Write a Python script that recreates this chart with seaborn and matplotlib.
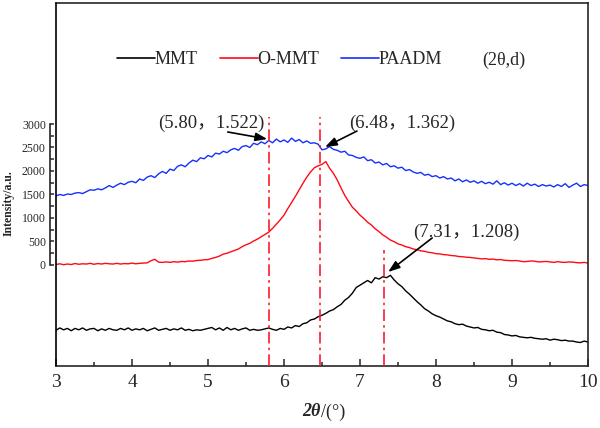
import numpy as np
import pandas as pd
import matplotlib
matplotlib.use("Agg")
import matplotlib.pyplot as plt
from matplotlib.lines import Line2D
from matplotlib.ticker import MultipleLocator
from matplotlib.transforms import blended_transform_factory
import seaborn as sns

# ------------------------
# Data (curves are stacked/offset as drawn)
# ------------------------
two_theta = np.round(np.arange(3.0, 10.025, 0.05), 2)

mmt = [-1390, -1340, -1380, -1350, -1400, -1350, -1380, -1340, -1390, -1360,
       -1350, -1400, -1360, -1390, -1350, -1380, -1390, -1350, -1380, -1340,
       -1390, -1360, -1380, -1350, -1400, -1370, -1340, -1390, -1370, -1350,
       -1390, -1360, -1380, -1340, -1390, -1370, -1400, -1380, -1390, -1370,
       -1350, -1330, -1380, -1340, -1390, -1330, -1380, -1350, -1390, -1360,
       -1340, -1390, -1370, -1390, -1380, -1360, -1340, -1370, -1390, -1350,
       -1370, -1320, -1340, -1290, -1310, -1250, -1230, -1170, -1150, -1100,
       -1070, -1030, -980, -950, -890, -840, -750, -690, -600, -480,
       -430, -380, -330, -380, -270, -300, -250, -270, -220, -320,
       -400, -460, -550, -620, -700, -780, -850, -930, -980, -1040,
       -1080, -1110, -1150, -1190, -1210, -1250, -1270, -1260, -1300, -1320,
       -1340, -1330, -1370, -1380, -1400, -1390, -1430, -1440, -1480, -1490,
       -1510, -1500, -1530, -1540, -1550, -1540, -1560, -1570, -1580, -1570,
       -1600, -1580, -1590, -1610, -1600, -1620, -1620, -1640, -1650, -1620,
       -1640]

ommt = [10, 25, 5, 20, 10, 30, 15, 25, 20, 35,
        15, 30, 20, 35, 25, 20, 35, 20, 30, 25,
        40, 25, 35, 40, 45, 90, 120, 60, 55, 65,
        55, 70, 60, 75, 70, 85, 80, 95, 100, 110,
        115, 140, 160, 190, 230, 250, 280, 310, 340, 390,
        430, 460, 510, 550, 600, 650, 700, 780, 870, 960,
        1060, 1200, 1330, 1460, 1600, 1740, 1870, 1980, 2070, 2110,
        2140, 2200, 2060, 1950, 1810, 1640, 1480, 1350, 1230, 1150,
        1060, 990, 910, 850, 770, 710, 640, 590, 530, 495,
        450, 425, 390, 370, 340, 325, 300, 290, 270, 260,
        240, 235, 220, 215, 200, 195, 180, 175, 165, 160,
        150, 140, 130, 135, 120, 125, 110, 115, 100, 95,
        90, 95, 85, 70, 75, 85, 80, 65, 70, 75,
        65, 55, 70, 60, 55, 65, 60, 50, 45, 55,
        40]

paadm = [1470, 1500, 1480, 1510, 1500, 1530, 1540, 1520, 1560, 1600,
         1590, 1620, 1600, 1640, 1690, 1650, 1700, 1740, 1710, 1760,
         1780, 1750, 1830, 1800, 1870, 1900, 1860, 1940, 1990, 1950,
         2040, 2010, 2100, 2130, 2090, 2170, 2230, 2200, 2280, 2260,
         2330, 2300, 2380, 2360, 2420, 2390, 2450, 2480, 2440, 2520,
         2540, 2500, 2590, 2560, 2620, 2580, 2650, 2600, 2680, 2620,
         2660, 2610, 2700, 2630, 2670, 2600, 2640, 2590, 2600, 2570,
         2450, 2470, 2520, 2460, 2440, 2400, 2420, 2340, 2330, 2290,
         2270, 2300, 2220, 2240, 2170, 2190, 2130, 2160, 2090, 2110,
         2060, 2080, 2010, 2030, 1980, 1950, 1970, 1910, 1930, 1880,
         1900, 1850, 1880, 1830, 1850, 1790, 1830, 1770, 1810, 1760,
         1790, 1740, 1780, 1730, 1760, 1720, 1790, 1710, 1750, 1700,
         1740, 1690, 1730, 1680, 1740, 1690, 1720, 1670, 1710, 1680,
         1700, 1660, 1710, 1670, 1730, 1650, 1700, 1740, 1670, 1710,
         1690]

series_names = ["MMT", "O-MMT", "PAADM"]
series_colors = ["#000000", "#ff0a14", "#1430ff"]

# peak markers: 2theta position, label, top of the dash-dot line
peak_2theta = [5.80, 6.48, 7.31]
peak_labels = ["(5.80，1.522)", "(6.48，1.362)", "(7.31，1.208)"]
peak_line_top = [3150, 3150, 320]
label_pos = [(5.05, 3020), (7.55, 3020), (8.40, 700)]
arrow_tail = [(5.26, 2830), (6.96, 2850), (7.95, 575)]
arrow_head = [(5.78, 2680), (6.54, 2510), (7.37, -150)]

y_ticks = [0, 500, 1000, 1500, 2000, 2500, 3000]

df = pd.DataFrame({
    "2theta": np.tile(two_theta, 3),
    "intensity": np.concatenate([mmt, ommt, paadm]),
    "sample": np.repeat(series_names, len(two_theta)),
})

# ------------------------
# Plot
# ------------------------
sns.set_style("ticks")
plt.rcParams["font.family"] = ["Liberation Serif", "Noto Sans CJK SC"]

fig = plt.figure(figsize=(6, 4.28), dpi=100)
ax = fig.add_axes([56 / 600, 1 - 366 / 428, 532 / 600, 363 / 428])

sns.lineplot(data=df, x="2theta", y="intensity", hue="sample",
             palette=dict(zip(series_names, series_colors)),
             linewidth=1.0, estimator=None, legend=False, ax=ax)

ymin, ymax = -2150, 5575
ax.set_xlim(3, 10)
ax.set_ylim(ymin, ymax)

# dash-dot peak lines
ax.vlines(peak_2theta, ymin, peak_line_top, colors="#ff1a2a",
          linestyles=[(0, (7, 2.5, 1.5, 2.5))], linewidth=1.2, zorder=3)

# peak labels and arrows
for lab, (tx, ty), tail, head in zip(peak_labels, label_pos, arrow_tail, arrow_head):
    ax.text(tx, ty, lab, ha="center", va="center", fontsize=13.5)
    ax.annotate("", xy=head, xytext=tail,
                arrowprops=dict(arrowstyle="-|>,head_length=0.7,head_width=0.25",
                                color="black", lw=1.2, shrinkA=0, shrinkB=0))

# axes / ticks
ax.set_xlabel("")
ax.set_ylabel("")
ax.xaxis.set_major_locator(MultipleLocator(1))
ax.xaxis.set_minor_locator(MultipleLocator(0.5))
ax.set_yticks(y_ticks)
ax.set_yticks([250, 750, 1250, 1750, 2250, 2750], minor=True)
ax.tick_params(axis="x", which="major", direction="in", length=5, width=1.1,
               labelsize=14, pad=6, top=False)
ax.tick_params(axis="x", which="minor", direction="in", length=3, width=1.1, top=False)
ax.tick_params(axis="y", which="both", direction="in", length=3, width=1.1,
               labelsize=8.5, pad=3, right=False)
for lbl in ax.get_yticklabels():
    lbl.set_fontweight("bold")

for s in ax.spines.values():
    s.set_linewidth(1.2)
ax.spines["left"].set_position(("outward", 4.3))
ax.spines["left"].set_bounds(0, 3000)
ax.axvline(3, color="black", lw=1.2, clip_on=False, zorder=5)

ax.text(-0.089, 1320, "Intensity/a.u.", rotation=90, fontsize=8.5,
        fontweight="bold", ha="center", va="center",
        transform=blended_transform_factory(ax.transAxes, ax.transData))

# x label: bold italic 2θ + regular /(°)
fig.text(321 / 600, 1 - 412 / 428, "2θ", fontsize=13, fontweight="bold",
         fontstyle="italic", ha="right", va="center")
fig.text(321 / 600, 1 - 412 / 428, "/(°)", fontsize=13, ha="left", va="center")

# legend
handles = [Line2D([], [], color=c, lw=1.2) for c in series_colors]
fig.legend(handles, series_names, loc="center left",
           bbox_to_anchor=(117 / 600, 1 - 60 / 428), ncol=3, frameon=False,
           fontsize=13, handlelength=2.1, handletextpad=0.0, columnspacing=1.2,
           borderpad=0, borderaxespad=0)
fig.text(482 / 600, 1 - 60 / 428, "(2θ,d)", fontsize=13, va="center")

fig.savefig("out.png", dpi=100)
